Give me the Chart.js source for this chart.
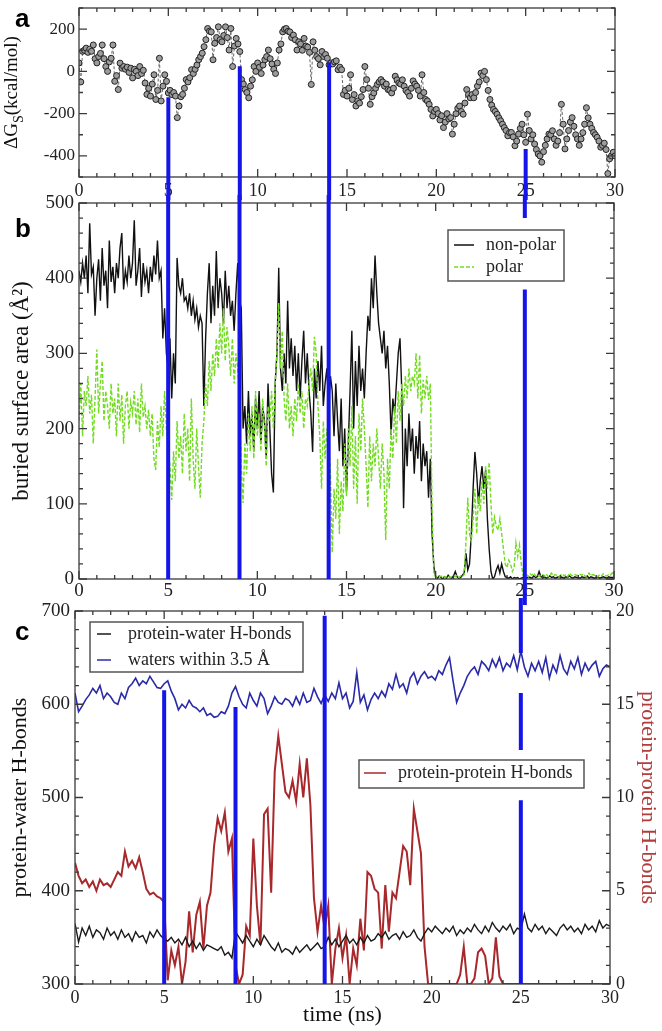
<!DOCTYPE html>
<html>
<head>
<meta charset="utf-8">
<script src="https://cdn.jsdelivr.net/npm/chart.js@4.4.1/dist/chart.umd.min.js"></script>
<style>
    body { margin: 0; background: #fff; }
    #page { position: relative; width: 662px; height: 1031px; overflow: hidden; background: #fff; }
    #page canvas { position: absolute; left: 0; }
    .tag { position: absolute; left: 15px; font: bold 26px/30px "Liberation Sans", Arial, sans-serif; color: #000; }
</style>
</head>
<body>
<div id="page">
    <canvas id="chartA" width="662" height="200" style="top:0"></canvas>
    <canvas id="chartB" width="662" height="410" style="top:195px"></canvas>
    <canvas id="chartC" width="662" height="433" style="top:598px"></canvas>
    <div class="tag" style="top:3px">a</div>
    <div class="tag" style="top:213px">b</div>
    <div class="tag" style="top:616px">c</div>
</div>
<script>
const serif = '"Liberation Serif", "Times New Roman", serif';

// panel a: solvation free energy, one value every 0.1 ns
const dGs = [
    40, -50, 95, 100, 110, 90, 105, 95, 125, 60,
    40, 70, 85, 125, 60, 23, 0, 45, 62, 125,
    -47, -20, -86, 39, 15, 23, 10, 20, -5, 15,
    -31, 10, 0, -20, 23, -10, 5, -55, -109, -80,
    -117, -60, -16, -133, -90, 62, -140, -70, -16, -47,
    -102, -90, -110, -100, -117, -219, -164, -120, -109, -80,
    -39, -50, -30, 8, -10, 10, 30, 55, 70, 86,
    117, 150, 203, 190, 187, 55, 133, 160, 211, 150,
    140, 170, 211, 160, 101, 203, 23, 120, 156, 130,
    94, -39, -60, -86, -100, -125, -70, -40, 23, 0,
    40, 20, -10, 30, 55, 70, 101, 60, 35, 10,
    -10, 40, 101, 130, 187, 200, 203, 190, 187, 160,
    172, 150, 101, 140, 130, 100, 156, 120, 115, 90,
    -62, 140, 100, 70, 60, 31, 94, 70, 80, 62,
    31, 40, 35, 45, 50, 8, 20, 8, -109, -90,
    -117, -80, -16, -133, -110, -164, -140, -150, -120, -86,
    23, -39, -80, -156, -120, -102, -80, -62, -50, -39,
    -50, -70, -60, -86, -90, -102, -80, -23, -40, -55,
    -60, -40, -70, -90, -100, -117, -80, -45, -60, -70,
    -90, -117, -16, -100, -133, -140, -156, -180, -211, -190,
    -180, -200, -230, -210, -266, -240, -200, -225, -219, -297,
    -250, -200, -175, -164, -190, -203, -150, -86, -110, -125,
    -110, -125, -100, -70, -50, -8, -20, 0, -39, -90,
    -133, -160, -180, -190, -203, -220, -234, -250, -266, -280,
    -305, -290, -289, -310, -352, -330, -297, -270, -250, -300,
    -336, -203, -280, -320, -300, -344, -370, -391, -400, -430,
    -380, -350, -320, -297, -300, -281, -320, -350, -330, -290,
    -156, -250, -367, -320, -280, -240, -219, -260, -300, -320,
    -350, -320, -290, -250, -172, -220, -250, -270, -289, -300,
    -312, -330, -359, -350, -340, -370, -484, -414, -400, -383,
    -400
];

// panel b: buried surface area, one value every 0.1 ns
const nonPolar = [
    410, 395, 420, 400, 430, 380, 473, 405, 415, 350,
    400, 425, 370, 440, 390, 410, 360, 450, 395, 415,
    380, 420, 400, 440, 460, 385, 410, 395, 430, 400,
    420, 477, 390, 410, 440, 375, 420, 395, 410, 380,
    415, 395, 430, 405, 450, 400, 410, 320, 360, 300,
    280, 320, 240, 300, 260, 427, 390, 380, 400, 370,
    375, 360, 380, 350, 370, 345, 360, 335, 350, 340,
    230, 320, 380, 420, 340, 390, 350, 436, 360, 400,
    380, 340, 410, 360, 390, 350, 370, 330, 380, 420,
    370, 360, 200, 230, 180, 250, 190, 220, 170, 240,
    200, 250, 180, 230, 210, 160, 260, 200, 140, 115,
    260, 300, 414, 280, 250, 300, 260, 370, 280, 320,
    270, 310, 250, 300, 240, 290, 330, 260, 300, 250,
    220, 169, 280, 240, 290, 250, 310, 230, 260, 280,
    230, 270, 250, 190, 260, 210, 170, 240, 150, 200,
    116, 180, 250, 330, 200, 290, 230, 310, 250, 280,
    240, 300, 350, 330, 400, 360, 430, 380, 340, 320,
    300, 330, 280, 310, 260, 192, 240, 220, 260, 300,
    320, 250, 94, 200, 150, 220, 170, 200, 140, 190,
    160, 210, 130, 180, 150, 170, 108, 160, 60, 16,
    3, 1, 4, 2, 0, 3, 1, 5, 2, 1,
    4, 10, 3, 1, 2, 5, 8, 34, 12, 20,
    60, 120, 169, 140, 100, 130, 150, 120, 145, 80,
    40, 10, 0, 3, 12, 18, 8, 20, 10, 3,
    2, 1, 3, 0, 2, 1, 2, 0, 1, 2,
    2, 1, 3, 2, 1, 4, 2, 3, 10, 3,
    2, 3, 1, 2, 4, 2, 3, 1, 2, 3,
    3, 2, 1, 3, 2, 4, 2, 1, 3, 2,
    2, 1, 3, 2, 2, 4, 1, 3, 2, 1,
    2, 3, 1, 2, 3, 2, 1, 3, 2, 2,
    2
];
const polar = [
    210, 260, 190, 250, 230, 270, 220, 245, 180, 240,
    305, 220, 260, 290, 210, 250, 230, 200, 260, 220,
    240, 190, 260, 210, 245, 180, 230, 250, 200, 235,
    220, 250, 205, 240, 195, 260, 215, 230, 200, 225,
    190, 220, 160, 145, 210, 175, 230, 190, 250, 200,
    180, 150, 105, 170, 130, 210, 160, 190, 140, 220,
    170, 200, 130, 240, 160, 120, 200, 150, 108, 180,
    210, 260, 230, 290, 250, 300, 270, 320, 280, 340,
    300, 360, 290, 335, 310, 270, 320, 260, 300, 280,
    240, 150, 101, 180, 140, 220, 170, 230, 160, 250,
    190, 220, 170, 240, 200, 150, 230, 210, 250, 200,
    260, 300, 367, 280, 330, 240, 210, 260, 200, 230,
    190, 240, 210, 260, 220, 250, 200, 240, 230, 260,
    280, 250, 322, 300, 230, 190, 120, 210, 160, 200,
    180, 140, 35, 120, 80, 160, 60, 130, 90, 180,
    110, 200, 150, 230, 120, 190, 100, 220, 170, 240,
    200, 150, 95, 190, 130, 180, 150, 200, 160, 120,
    180, 140, 52, 160, 120, 200, 160, 230, 180, 250,
    210, 260, 230, 270, 240, 280, 250, 270, 260, 300,
    240, 298, 220, 265, 240, 270, 238, 260, 90, 5,
    3, 2, 4, 3, 5, 2, 3, 4, 2, 3,
    4, 3, 5, 2, 4, 3, 6, 50, 108, 60,
    50, 80, 120, 60, 110, 90, 130, 100, 150, 120,
    155, 100, 60, 82, 70, 65, 80, 60, 40, 20,
    15, 25, 20, 10, 15, 48, 30, 45, 20, 5,
    4, 6, 3, 7, 5, 8, 4, 6, 3, 5,
    6, 4, 7, 3, 5, 8, 4, 6, 5, 3,
    5, 7, 4, 6, 3, 8, 5, 4, 6, 5,
    4, 6, 5, 7, 3, 5, 8, 4, 6, 5,
    5, 3, 6, 4, 7, 5, 4, 6, 5, 8,
    5
];

// panel c: one value every 0.2 ns
const waterHB = [
    365, 345, 360, 352, 362, 350, 358, 355, 348, 360,
    352, 356, 348, 358, 350, 354, 346, 356, 350, 352,
    344, 356, 350, 358, 352, 348, 346, 350, 344, 348,
    342, 350, 340, 346, 338, 344, 336, 342, 340, 338,
    336, 340, 331, 334, 328, 356, 350, 344, 352, 346,
    340, 348, 342, 352, 346, 340, 336, 344, 334, 338,
    336, 332, 340, 334, 338, 342, 336, 340, 344, 338,
    340, 350, 342, 348, 340, 346, 352, 344, 348, 342,
    350, 344, 352, 346, 348, 354, 350, 356, 348, 352,
    354, 348, 356, 350, 352, 358, 350, 346, 354, 360,
    356, 362, 358, 354, 360, 356, 362, 352, 358, 354,
    360, 356, 364, 358, 354, 362, 356, 366, 360, 356,
    362, 358, 364, 354, 360, 358, 375, 360, 356, 364,
    358, 362, 354, 360, 356, 352, 360, 364, 358, 362,
    356, 360, 354, 364, 358, 362, 356, 368, 360, 364,
    362
];
const waters = [
    612, 592, 598, 605, 610, 617, 612, 620, 606, 612,
    608, 602, 600, 612, 606, 618, 622, 628, 620, 625,
    622, 630, 624, 618, 617, 622, 625, 614, 606, 594,
    600, 596, 604, 598, 596, 592, 596, 588, 590, 586,
    587, 592, 590, 598, 612, 619, 608, 600, 596, 612,
    604, 598, 612, 606, 590, 598, 608, 602, 600, 606,
    604, 598, 608, 600, 612, 602, 604, 617, 608, 601,
    610, 603, 612, 606, 623, 606, 612, 596, 603, 634,
    602, 610, 594, 605, 612, 606, 614, 608, 622, 616,
    632, 618, 622, 612, 628, 634, 622, 630, 635, 628,
    630, 626, 636, 632, 642, 650, 625, 602, 612, 620,
    630, 636, 640, 632, 646, 642, 636, 648, 640, 650,
    636, 644, 640, 652, 637, 657, 640, 630, 644, 636,
    646, 634, 650, 628, 642, 634, 652, 638, 632, 646,
    638, 650, 632, 644, 636, 642, 646, 630, 638, 642,
    640
];
const proteinHB = [
    6.5, 5.8, 5.4, 5.6, 5.2, 5.5, 5.0, 5.6, 5.3, 5.4,
    5.2, 5.6, 6.0, 5.8, 7.1, 6.3, 6.6, 6.2, 6.8, 6.0,
    5.1, 4.8, 4.9, 4.7, 4.6, 4.4, 0.2, 1.8, 1.0, 2.0,
    0.0, 1.2, 3.9, 1.7, 3.7, 4.4, 1.9, 4.2, 4.9, 7.4,
    8.9, 8.2, 9.2, 7.1, 7.8, 1.0, 0.0, 0.5, 3.1, 2.6,
    7.8, 4.2, 2.1, 9.1, 9.4, 4.9, 11.4, 13.3, 11.8, 10.3,
    10.0, 10.9, 9.8, 11.8, 10.0, 12.1, 9.6, 4.6, 2.8, 4.2,
    3.0, 4.2, 0.0, 1.9, 3.0, 1.4, 2.6, 0.0, 1.9, 1.0,
    3.5, 1.8, 6.0, 5.8, 5.1, 4.9, 1.9, 5.3, 2.8, 4.9,
    4.6, 6.0, 7.4, 7.1, 5.3, 9.4, 8.2, 7.0, 2.0, 0.0,
    0, 0, 0, 0, 0, 0, 0, 0, 0.5, 2.0,
    0, 0, 0.3, 1.7, 1.9, 1.5, 0, 0.3, 2.5, 0.4,
    0, 0, 0, 0, 0, 0, 0, 0, 0, 0,
    0, 0, 0, 0, 0, 0, 0, 0, 0, 0,
    0, 0, 0, 0, 0, 0, 0, 0, 0, 0,
    0
];

const timeTicks = [0, 5, 10, 15, 20, 25, 30];
const dGsTicks = [-400, -200, 0, 200];
const areaTicks = [0, 100, 200, 300, 400, 500];
const hbTicks = [300, 400, 500, 600, 700];
const ppTicks = [0, 5, 10, 15, 20];

// the blue guide lines, and where each one runs in every panel (±Infinity = to the canvas edge)
const markerTimes = [5, 9, 14, 25];
const markerSpansA = [[[-122, -Infinity]], [[24, -Infinity]], [[42, -Infinity]], [[-367, -Infinity]]];
const markerSpansB = [[[Infinity, 0]], [[Infinity, 0]], [[Infinity, 0]], [[Infinity, 480], [385, -Infinity]]];
const markerSpansC = [[[615, 300]], [[597, 300]], [[695, 300]], [[Infinity, 655], [612, 551], [497, 300]]];

function toPoints(values, step) {
    return values.map((v, i) => ({ x: Math.round(i * step * 100) / 100, y: v }));
}

const frameTicks = {
    id: 'frameTicks',
    afterDatasetsDraw(chart, args, opts) {
        const { ctx, chartArea: a, scales } = chart;
        ctx.save();
        ctx.strokeStyle = '#3a3a3a';
        ctx.lineWidth = 1.3;
        ctx.strokeRect(a.left, a.top, a.width, a.height);
        const marks = (scale, major, minor, draw) => {
            for (let v = Math.ceil(scale.min / minor) * minor; v <= scale.max + 1e-9; v += minor) {
                const isMajor = Math.abs(v / major - Math.round(v / major)) < 1e-6;
                draw(scale.getPixelForValue(v), isMajor ? 8 : 4);
            }
        };
        ctx.beginPath();
        marks(scales.x, opts.x[0], opts.x[1], (p, l) => {
            ctx.moveTo(p, a.bottom); ctx.lineTo(p, a.bottom - l);
            ctx.moveTo(p, a.top); ctx.lineTo(p, a.top + l);
        });
        marks(scales.y, opts.y[0], opts.y[1], (p, l) => {
            ctx.moveTo(a.left, p); ctx.lineTo(a.left + l, p);
        });
        const right = opts.y2 ? scales.y2 : scales.y;
        const rightSteps = opts.y2 || opts.y;
        marks(right, rightSteps[0], rightSteps[1], (p, l) => {
            ctx.moveTo(a.right, p); ctx.lineTo(a.right - l, p);
        });
        ctx.stroke();
        ctx.restore();
    }
};

const markers = {
    id: 'markers',
    afterDraw(chart, args, opts) {
        if (!opts.spans) return;
        const { ctx, scales } = chart;
        const clamp = v => {
            if (v === Infinity) return 0;
            if (v === -Infinity) return chart.height;
            return scales.y.getPixelForValue(v);
        };
        ctx.save();
        ctx.strokeStyle = '#1515e8';
        ctx.lineWidth = 4;
        ctx.beginPath();
        markerTimes.forEach((t, i) => {
            const px = scales.x.getPixelForValue(t);
            opts.spans[i].forEach(([from, to]) => {
                ctx.moveTo(px, clamp(from));
                ctx.lineTo(px, clamp(to));
            });
        });
        ctx.stroke();
        ctx.restore();
    }
};

const boxLegend = {
    id: 'boxLegend',
    afterDraw(chart, args, opts) {
        if (!opts.boxes) return;
        const { ctx, chartArea: a } = chart;
        ctx.save();
        opts.boxes.forEach(b => {
            const x = a.left + b.x, y = a.top + b.y;
            ctx.fillStyle = '#fff';
            ctx.fillRect(x, y, b.w, b.h);
            ctx.strokeStyle = '#555';
            ctx.lineWidth = 1.5;
            ctx.strokeRect(x, y, b.w, b.h);
            b.items.forEach((idx, row) => {
                const ds = chart.data.datasets[idx];
                const ry = y + b.rows[row];
                ctx.strokeStyle = ds.borderColor;
                ctx.lineWidth = 1.5;
                ctx.setLineDash(ds.borderDash || []);
                ctx.beginPath();
                ctx.moveTo(x + b.line[0], ry);
                ctx.lineTo(x + b.line[1], ry);
                ctx.stroke();
                ctx.setLineDash([]);
                ctx.fillStyle = '#222';
                ctx.font = '18px ' + serif;
                ctx.textBaseline = 'middle';
                ctx.fillText(ds.label, x + b.text, ry);
            });
        });
        ctx.restore();
    }
};

const richTitle = {
    id: 'richTitle',
    afterDraw(chart, args, opts) {
        if (!opts.parts) return;
        const { ctx, chartArea: a } = chart;
        const fontOf = p => (p.sub ? Math.round(opts.size * 0.72) : opts.size) + 'px ' + serif;
        ctx.save();
        ctx.translate(opts.x, (a.top + a.bottom) / 2);
        ctx.rotate(-Math.PI / 2);
        let w = 0;
        opts.parts.forEach(p => { ctx.font = fontOf(p); w += ctx.measureText(p.text).width; });
        let cx = -w / 2;
        ctx.fillStyle = '#111';
        ctx.textBaseline = 'alphabetic';
        opts.parts.forEach(p => {
            ctx.font = fontOf(p);
            ctx.fillText(p.text, cx, p.sub ? opts.size * 0.3 : 0);
            cx += ctx.measureText(p.text).width;
        });
        ctx.restore();
    }
};

function noEdgePadding(s) {
    s.paddingTop = 0;
    s.paddingBottom = 0;
    s.paddingLeft = 0;
    s.paddingRight = 0;
}

function xAxis(height, size, pad, title) {
    return {
        type: 'linear', min: 0, max: 30,
        grid: { display: false, drawTicks: false },
        border: { display: false },
        afterBuildTicks: s => { s.ticks = timeTicks.map(v => ({ value: v })); },
        afterFit: s => { s.height = height; noEdgePadding(s); },
        ticks: { padding: pad, autoSkip: false, maxRotation: 0, color: '#222', font: { family: serif, size: size } },
        title: title || { display: false }
    };
}

function yAxis(position, min, max, tickList, width, size, pad, title) {
    return {
        type: 'linear', position: position, min: min, max: max,
        grid: { display: false, drawTicks: false },
        border: { display: false },
        afterBuildTicks: s => { s.ticks = tickList.map(v => ({ value: v })); },
        afterFit: s => { s.width = width; noEdgePadding(s); },
        ticks: { padding: pad, autoSkip: false, color: '#222', font: { family: serif, size: size } },
        title: title || { display: false }
    };
}

const plugins = [frameTicks, markers, boxLegend, richTitle];

new Chart(document.getElementById('chartA'), {
    type: 'line',
    data: {
        datasets: [{
            label: 'dGs',
            data: toPoints(dGs, 0.1),
            borderColor: '#666',
            borderWidth: 1,
            borderDash: [3, 2],
            pointRadius: 3,
            pointBackgroundColor: '#9c9c9c',
            pointBorderColor: '#222',
            pointBorderWidth: 1
        }]
    },
    options: {
        animation: false,
        responsive: false,
        layout: { padding: { top: 8, right: 47, bottom: 0, left: 0 } },
        plugins: {
            legend: { display: false },
            tooltip: { enabled: false },
            frameTicks: { x: [5, 1], y: [200, 100] },
            markers: { spans: markerSpansA },
            richTitle: { x: 17, size: 19, parts: [{ text: 'ΔG' }, { text: 'S', sub: true }, { text: '(kcal/mol)' }] }
        },
        scales: {
            x: xAxis(23, 18, 3),
            y: yAxis('left', -500, 300, dGsTicks, 79, 17, 4)
        }
    },
    plugins: plugins
});

new Chart(document.getElementById('chartB'), {
    type: 'line',
    data: {
        datasets: [{
            label: 'non-polar',
            data: toPoints(nonPolar, 0.1),
            borderColor: '#111',
            borderWidth: 1.4,
            pointRadius: 0,
            order: 1
        }, {
            label: 'polar',
            data: toPoints(polar, 0.1),
            borderColor: '#72dc20',
            borderWidth: 1.4,
            borderDash: [4, 2],
            pointRadius: 0,
            order: 0
        }]
    },
    options: {
        animation: false,
        responsive: false,
        layout: { padding: { top: 8, right: 48, bottom: 0, left: 0 } },
        plugins: {
            legend: { display: false },
            tooltip: { enabled: false },
            frameTicks: { x: [5, 1], y: [100, 20] },
            markers: { spans: markerSpansB },
            boxLegend: { boxes: [{ x: 369, y: 27, w: 116, h: 51, items: [0, 1], rows: [15, 37], line: [6, 26], text: 38 }] }
        },
        scales: {
            x: xAxis(26, 19, 1),
            y: yAxis('left', 0, 500, areaTicks, 79, 19, 5, {
                display: true, text: 'buried surface area (Å²)', color: '#111',
                font: { family: serif, size: 23 }, padding: { top: 8, bottom: 0 }
            })
        }
    },
    plugins: plugins
});

new Chart(document.getElementById('chartC'), {
    type: 'line',
    data: {
        datasets: [{
            label: 'protein-water H-bonds',
            data: toPoints(waterHB, 0.2),
            borderColor: '#1a1a1a',
            borderWidth: 1.4,
            pointRadius: 0,
            yAxisID: 'y',
            order: 0
        }, {
            label: 'waters within 3.5 Å',
            data: toPoints(waters, 0.2),
            borderColor: '#2a2aa8',
            borderWidth: 1.6,
            pointRadius: 0,
            yAxisID: 'y',
            order: 1
        }, {
            label: 'protein-protein H-bonds',
            data: toPoints(proteinHB, 0.2),
            borderColor: '#a8282c',
            borderWidth: 2,
            pointRadius: 0,
            yAxisID: 'y2',
            order: 2
        }]
    },
    options: {
        animation: false,
        responsive: false,
        layout: { padding: { top: 13, right: 0, bottom: 0, left: 0 } },
        plugins: {
            legend: { display: false },
            tooltip: { enabled: false },
            frameTicks: { x: [5, 1], y: [100, 20], y2: [5, 1] },
            markers: { spans: markerSpansC },
            boxLegend: {
                boxes: [
                    { x: 15, y: 11, w: 213, h: 50, items: [0, 1], rows: [12, 38], line: [7, 21], text: 38 },
                    { x: 284, y: 149, w: 225, h: 28, items: [2], rows: [13], line: [5, 27], text: 39 }
                ]
            }
        },
        scales: {
            x: xAxis(47, 18, 3, {
                display: true, text: 'time (ns)', color: '#111',
                font: { family: serif, size: 22 }, padding: { top: 0, bottom: 3 }
            }),
            y: yAxis('left', 300, 700, hbTicks, 75, 19, 5, {
                display: true, text: 'protein-water H-bonds', color: '#111',
                font: { family: serif, size: 22 }, padding: { top: 7, bottom: 0 }
            }),
            y2: yAxis('right', 0, 20, ppTicks, 52, 18, 6, {
                display: true, text: 'protein-protein H-bonds', color: '#b03c3c',
                font: { family: serif, size: 22 }, padding: { top: 1, bottom: 0 }
            })
        }
    },
    plugins: plugins
});
</script>
</body>
</html>
